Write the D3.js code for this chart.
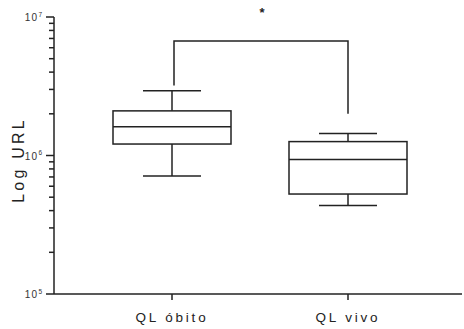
<!DOCTYPE html>
<html>
<head>
<meta charset="utf-8">
<script src="https://cdn.jsdelivr.net/npm/d3@7"></script>
<style>
  html, body { margin: 0; padding: 0; background: #fff; }
  svg { display: block; font-family: "Liberation Sans", Arial, sans-serif; }
</style>
</head>
<body>
<svg id="chart" width="464" height="329"></svg>
<script>
// groups and box-plot summaries (min, q1, median, q3, max)
var groups = ["QL óbito", "QL vivo"];
var whiskerMin = [7.1e5, 4.35e5];
var quartile1 = [1.21e6, 5.27e5];
var medians = [1.61e6, 9.35e5];
var quartile3 = [2.1e6, 1.26e6];
var whiskerMax = [2.94e6, 1.44e6];

// significance bracket: top level and foot level per group
var bracketTop = 6.7e6;
var bracketFeet = [3.2e6, 2.0e6];
var bracketLabel = "*";

var yTicks = [1e5, 1e6, 1e7];
var yTickExp = ["5", "6", "7"];

(function () {
    "use strict";

    var svg = d3.select("#chart");
    var ink = "#222";

    var y = d3.scaleLog().domain([1e5, 1e7]).range([294, 17]);
    var x = d3.scalePoint().domain(groups).range([172, 348]);
    var axisLeft = 54, axisRight = 462;
    var boxHalf = 59, capHalf = 29;

    // y axis: line, major and minor ticks
    var minors = [];
    [1e5, 1e6].forEach(function (base) {
        for (var k = 2; k <= 9; k++) { minors.push(base * k); }
    });

    var gy = svg.append("g").attr("stroke", ink).attr("stroke-width", 1.5);
    gy.append("line")
        .attr("x1", axisLeft).attr("x2", axisLeft)
        .attr("y1", y(1e7)).attr("y2", y(1e5));
    gy.selectAll("line.major").data(yTicks).join("line")
        .attr("class", "major")
        .attr("x1", axisLeft - 8).attr("x2", axisLeft)
        .attr("y1", function (d) { return y(d); })
        .attr("y2", function (d) { return y(d); });
    gy.selectAll("line.minor").data(minors).join("line")
        .attr("class", "minor")
        .attr("x1", axisLeft - 5).attr("x2", axisLeft)
        .attr("y1", function (d) { return y(d); })
        .attr("y2", function (d) { return y(d); });

    var lab = svg.append("g").attr("fill", "#333").attr("font-size", 10);
    yTicks.forEach(function (d, i) {
        var t = lab.append("text")
            .attr("x", axisLeft - 12)
            .attr("y", y(d) + 4)
            .attr("text-anchor", "end");
        t.append("tspan").attr("letter-spacing", 1.2).text("10");
        t.append("tspan").attr("font-size", 6.5).attr("dy", -4.5).text(yTickExp[i]);
    });

    svg.append("text")
        .attr("transform", "translate(24,160) rotate(-90)")
        .attr("text-anchor", "middle")
        .attr("font-size", 16)
        .attr("letter-spacing", 3.2)
        .attr("fill", "#222")
        .text("Log URL");

    // x axis
    var gx = svg.append("g").attr("stroke", ink).attr("stroke-width", 1.5);
    gx.append("line")
        .attr("x1", axisLeft).attr("x2", axisRight)
        .attr("y1", y(1e5)).attr("y2", y(1e5));
    gx.selectAll("line.tick").data(groups).join("line")
        .attr("class", "tick")
        .attr("x1", function (d) { return x(d); })
        .attr("x2", function (d) { return x(d); })
        .attr("y1", y(1e5)).attr("y2", y(1e5) + 6);

    svg.append("g")
        .selectAll("text").data(groups).join("text")
        .attr("x", function (d) { return x(d); })
        .attr("y", 322)
        .attr("text-anchor", "middle")
        .attr("font-size", 13.5)
        .attr("letter-spacing", 2.8)
        .attr("fill", "#222")
        .text(function (d) { return d; });

    // boxes
    var rows = groups.map(function (g, i) {
        return { g: g, lo: whiskerMin[i], q1: quartile1[i], med: medians[i], q3: quartile3[i], hi: whiskerMax[i] };
    });

    var box = svg.append("g")
        .attr("stroke", ink).attr("stroke-width", 1.5).attr("fill", "none")
        .selectAll("g").data(rows).join("g");

    box.append("line")
        .attr("x1", function (d) { return x(d.g); })
        .attr("x2", function (d) { return x(d.g); })
        .attr("y1", function (d) { return y(d.hi); })
        .attr("y2", function (d) { return y(d.q3); });
    box.append("line")
        .attr("x1", function (d) { return x(d.g); })
        .attr("x2", function (d) { return x(d.g); })
        .attr("y1", function (d) { return y(d.q1); })
        .attr("y2", function (d) { return y(d.lo); });
    ["hi", "lo"].forEach(function (k) {
        box.append("line")
            .attr("x1", function (d) { return x(d.g) - capHalf; })
            .attr("x2", function (d) { return x(d.g) + capHalf; })
            .attr("y1", function (d) { return y(d[k]); })
            .attr("y2", function (d) { return y(d[k]); });
    });
    box.append("rect")
        .attr("x", function (d) { return x(d.g) - boxHalf; })
        .attr("width", boxHalf * 2)
        .attr("y", function (d) { return y(d.q3); })
        .attr("height", function (d) { return y(d.q1) - y(d.q3); });
    box.append("line")
        .attr("x1", function (d) { return x(d.g) - boxHalf; })
        .attr("x2", function (d) { return x(d.g) + boxHalf; })
        .attr("y1", function (d) { return y(d.med); })
        .attr("y2", function (d) { return y(d.med); });

    // significance bracket
    var bx0 = x(groups[0]) + 2, bx1 = x(groups[1]);
    svg.append("path")
        .attr("fill", "none").attr("stroke", ink).attr("stroke-width", 1.5)
        .attr("d", d3.line()([
            [bx0, y(bracketFeet[0])], [bx0, y(bracketTop)],
            [bx1, y(bracketTop)], [bx1, y(bracketFeet[1])]
        ]));
    svg.append("text")
        .attr("x", (bx0 + bx1) / 2 + 1)
        .attr("y", 17)
        .attr("text-anchor", "middle")
        .attr("font-size", 13)
        .attr("font-weight", "bold")
        .attr("fill", "#222")
        .text(bracketLabel);
})();
</script>
</body>
</html>
